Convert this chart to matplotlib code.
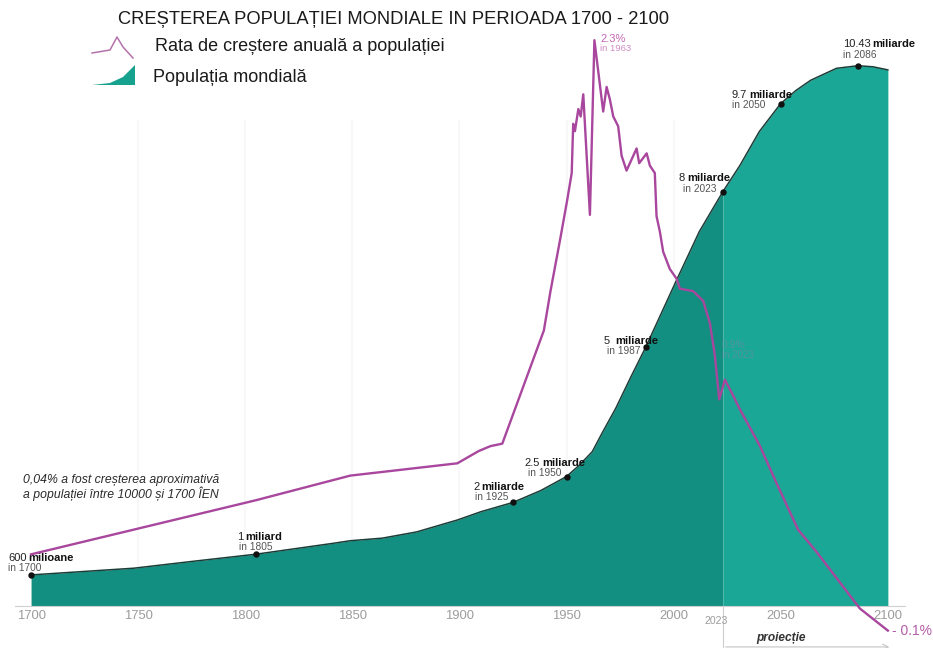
import matplotlib
matplotlib.use("Agg")
import matplotlib.pyplot as plt
import numpy as np

plt.rcParams['font.family'] = ['Liberation Sans', 'DejaVu Sans']

# world population, billions
pop_years = [1700, 1748, 1775, 1805, 1841, 1849, 1864, 1880, 1899, 1910, 1925, 1938,
             1950, 1956, 1962, 1967, 1973, 1980, 1987, 2001, 2012, 2023, 2031, 2040,
             2050, 2057, 2064, 2076, 2086, 2093, 2100]
pop_values = [0.60, 0.73, 0.86, 1.00, 1.21, 1.26, 1.31, 1.43, 1.66, 1.82, 2.00, 2.23,
              2.50, 2.72, 2.98, 3.37, 3.82, 4.42, 5.00, 6.26, 7.23, 8.00, 8.51, 9.16,
              9.70, 9.95, 10.15, 10.38, 10.43, 10.41, 10.35]

# annual growth rate, %
rate_years = [1700, 1805, 1849, 1899, 1909, 1914.5, 1920, 1939.4, 1942.5, 1947, 1950.3,
              1952.4, 1953.1, 1953.9, 1955.5, 1956.6, 1957.8, 1960.9, 1963, 1967.1,
              1968.7, 1970.2, 1971.8, 1974.1, 1975.7, 1978, 1982.7, 1983.9, 1987.4,
              1988.9, 1991.2, 1992, 1993.6, 1995.1, 1998.2, 2001.4, 2002.9, 2009.1,
              2013.8, 2016.9, 2019.2, 2021.3, 2023.9, 2027.8, 2030.9, 2040.3, 2048,
              2058.1, 2066.7, 2086.9, 2100]
rate_values = [0.21, 0.43, 0.53, 0.58, 0.63, 0.65, 0.66, 1.12, 1.28, 1.49, 1.65,
               1.76, 1.96, 1.93, 2.02, 1.99, 2.08, 1.59, 2.30, 2.01,
               2.11, 2.06, 1.99, 1.95, 1.83, 1.77, 1.86, 1.80, 1.84,
               1.79, 1.76, 1.585, 1.52, 1.44, 1.37, 1.33, 1.29, 1.28,
               1.24, 1.15, 1.02, 0.84, 0.92, 0.855, 0.80, 0.65, 0.50,
               0.31, 0.22, -0.01, -0.10]

# milestone labels: year, population, number, unit, subtitle
milestones = [
    (1700, 0.60, "600", "milioane", "in 1700"),
    (1805, 1.00, "1", "miliard", "in 1805"),
    (1925, 2.00, "2", "miliarde", "in 1925"),
    (1950, 2.50, "2.5", "miliarde", "in 1950"),
    (1987, 5.00, "5 ", "miliarde", "in 1987"),
    (2023, 8.00, "8", "miliarde", "in 2023"),
    (2050, 9.70, "9.7", "miliarde", "in 2050"),
    (2086, 10.43, "10.43", "miliarde", "in 2086"),
]
# text offsets in pixels: main dx, main dy, sub dx, sub dy
label_offsets = [(-23, 14, -23, 4), (-19, 14, -17, 4), (-40, 12, -38, 2),
                 (-42, 11, -39, 1), (-42, 3, -39, -7), (-44, 11, -40, 0),
                 (-49, 6, -49, -4), (-15, 19, -15, 8)]

xticks = [1700, 1750, 1800, 1850, 1900, 1950, 2000, 2050, 2100]
split_year = 2023

W, H = 933, 648
fig = plt.figure(figsize=(W / 100, H / 100), dpi=100)

zero_px, top_px = 606, 25
pop_px = 51.8     # pixels per billion
rate_px = 246.0   # pixels per percent

ax = fig.add_axes([15 / W, 0, 890 / W, 1 - top_px / H])
ax.set_xlim(1692.5, 2108)
ax.set_ylim(-(H - zero_px) / pop_px, (zero_px - top_px) / pop_px)
ax2 = ax.twinx()
ax2.set_ylim(-(H - zero_px) / rate_px, (zero_px - top_px) / rate_px)

for a in (ax, ax2):
    for s in a.spines.values():
        s.set_visible(False)
    a.set_yticks([])
ax2.patch.set_visible(False)

ax.spines['bottom'].set_visible(True)
ax.spines['bottom'].set_position(('data', 0))
ax.spines['bottom'].set_color('#cfcfcf')
ax.set_xticks(xticks)
ax.set_xticklabels([str(t) for t in xticks])
ax.tick_params(axis='x', length=0, pad=3, labelsize=9.4, labelcolor='#9c9c9c')

# faint vertical grid
ax.vlines(xticks[1:-1], 0, 9.38, color='#f8f8f8', lw=1.6, zorder=0)

# population area, history darker than projection
yrs = np.array(pop_years)
vals = np.array(pop_values)
past = yrs <= split_year
future = yrs >= split_year
ax.fill_between(yrs[past], 0, vals[past], color='#128f80', lw=0, zorder=1)
ax.fill_between(yrs[future], 0, vals[future], color='#1ba795', lw=0, zorder=1)
ax.plot(yrs, vals, color='#1d3d38', lw=1.1, zorder=2)

for (yr, val, num, unit, sub), (dx, dy, sdx, sdy) in zip(milestones, label_offsets):
    ax.plot(yr, val, 'o', color='#111111', ms=3.6, zorder=4)
    t = ax.annotate(num, (yr, val), xytext=(dx, dy), textcoords='offset pixels',
                    fontsize=8, color='#222222', va='baseline', ha='left', zorder=5)
    ax.annotate(unit, xy=(1, 0), xycoords=t, xytext=(2, 0), textcoords='offset pixels',
                fontsize=8, fontweight='bold', color='#111111', va='bottom', ha='left',
                zorder=5)
    ax.annotate(sub, (yr, val), xytext=(sdx, sdy), textcoords='offset pixels',
                fontsize=7.3, color='#555555', va='baseline', ha='left', zorder=5)

# projection bracket under the axis
ax.plot([split_year, split_year], [0, -0.79], color='#cccccc', lw=0.8, clip_on=False)
ax.annotate('', xy=(2102, -0.79), xytext=(split_year, -0.79),
            arrowprops=dict(arrowstyle='->', color='#c4c4c4', lw=0.8))
ax.text(split_year - 3, -0.29, "2023", fontsize=7.6, color='#9c9c9c', ha='center',
        va='center')
ax.text(2050, -0.68, "proiecție", fontsize=8.6, style='italic', fontweight='bold',
        color='#333333', ha='center', va='baseline')

# growth rate line
ax2.plot(rate_years, rate_values, color='#a8479d', lw=1.7, zorder=3, clip_on=False)
ax2.annotate("2.3%", (1963, 2.3), xytext=(6, -2), textcoords='offset pixels',
             fontsize=8, color='#c466b6', va='baseline')
ax2.annotate("in 1963", (1963, 2.3), xytext=(6, -11), textcoords='offset pixels',
             fontsize=6.8, color='#cf8cc5', va='baseline')
ax2.annotate("0.9%", (2023, 0.9), xytext=(-1, 37), textcoords='offset pixels',
             fontsize=7.5, color='#8f7fb0', alpha=0.45, va='baseline')
ax2.annotate("in 2023", (2023, 0.9), xytext=(-1, 27), textcoords='offset pixels',
             fontsize=7, color='#8f7fb0', alpha=0.45, va='baseline')
ax2.annotate("- 0.1%", (2100, -0.1), xytext=(4, 0), textcoords='offset pixels',
             fontsize=10, color='#b35ca8', va='center')

# title, legend and note in pixel space
ov = fig.add_axes([0, 0, 1, 1], zorder=10)
ov.set_xlim(0, W)
ov.set_ylim(H, 0)
ov.axis('off')
ov.patch.set_visible(False)

ov.text(118, 24, "CREȘTEREA POPULAȚIEI MONDIALE IN PERIOADA 1700 - 2100",
        fontsize=13.2, color='#1a1a1a', va='baseline')
ov.plot([92, 110, 117, 123, 133], [53, 50, 37, 47, 58], color='#b472aa', lw=1.1)
ov.text(155, 51, "Rata de creștere anuală a populației", fontsize=13,
        color='#1a1a1a', va='baseline')
ov.fill([92, 110, 123, 135, 135], [85, 83, 77, 65, 85], color='#17a290', lw=0)
ov.text(153, 82, "Populația mondială", fontsize=13, color='#1a1a1a', va='baseline')

ov.text(23, 483, "0,04% a fost creșterea aproximativă", fontsize=8.8,
        style='italic', color='#2a2a2a', va='baseline')
ov.text(23, 498, "a populației între 10000 și 1700 ÎEN", fontsize=8.8,
        style='italic', color='#2a2a2a', va='baseline')

fig.savefig("out.png", dpi=100, facecolor='white')
